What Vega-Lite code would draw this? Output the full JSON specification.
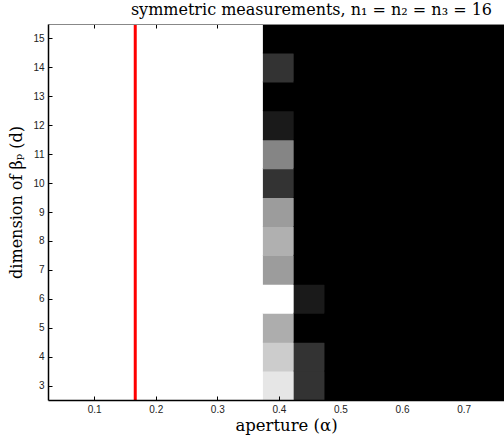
{
  "$schema": "https://vega.github.io/schema/vega-lite/v6.json",
  "width": 456,
  "height": 376,
  "autosize": "none",
  "padding": {"left": 48, "top": 24, "right": 0, "bottom": 39},
  "background": "white",
  "title": {
    "text": "symmetric measurements, n₁ = n₂ = n₃ = 16",
    "anchor": "end",
    "font": "DejaVu Serif",
    "fontSize": 16,
    "fontWeight": "normal",
    "color": "#000000",
    "offset": 5,
    "dx": -12
  },
  "config": {
    "view": {"stroke": null},
    "axis": {
      "labelFont": "Liberation Sans",
      "labelFontSize": 10,
      "labelColor": "#222222",
      "titleFont": "DejaVu Serif",
      "titleFontWeight": "normal",
      "titleColor": "#000000",
      "domainColor": "#000000",
      "domainWidth": 1.5,
      "tickColor": "#000000",
      "tickWidth": 1,
      "tickSize": -4,
      "grid": false,
      "zindex": 2
    }
  },
  "resolve": {"axis": {"x": "independent"}},
  "datasets": {
    "cells": [
      {"a":0.05,"d":3,"v":1},{"a":0.05,"d":4,"v":1},{"a":0.05,"d":5,"v":1},{"a":0.05,"d":6,"v":1},{"a":0.05,"d":7,"v":1},{"a":0.05,"d":8,"v":1},{"a":0.05,"d":9,"v":1},{"a":0.05,"d":10,"v":1},{"a":0.05,"d":11,"v":1},{"a":0.05,"d":12,"v":1},{"a":0.05,"d":13,"v":1},{"a":0.05,"d":14,"v":1},{"a":0.05,"d":15,"v":1},
      {"a":0.1,"d":3,"v":1},{"a":0.1,"d":4,"v":1},{"a":0.1,"d":5,"v":1},{"a":0.1,"d":6,"v":1},{"a":0.1,"d":7,"v":1},{"a":0.1,"d":8,"v":1},{"a":0.1,"d":9,"v":1},{"a":0.1,"d":10,"v":1},{"a":0.1,"d":11,"v":1},{"a":0.1,"d":12,"v":1},{"a":0.1,"d":13,"v":1},{"a":0.1,"d":14,"v":1},{"a":0.1,"d":15,"v":1},
      {"a":0.15,"d":3,"v":1},{"a":0.15,"d":4,"v":1},{"a":0.15,"d":5,"v":1},{"a":0.15,"d":6,"v":1},{"a":0.15,"d":7,"v":1},{"a":0.15,"d":8,"v":1},{"a":0.15,"d":9,"v":1},{"a":0.15,"d":10,"v":1},{"a":0.15,"d":11,"v":1},{"a":0.15,"d":12,"v":1},{"a":0.15,"d":13,"v":1},{"a":0.15,"d":14,"v":1},{"a":0.15,"d":15,"v":1},
      {"a":0.2,"d":3,"v":1},{"a":0.2,"d":4,"v":1},{"a":0.2,"d":5,"v":1},{"a":0.2,"d":6,"v":1},{"a":0.2,"d":7,"v":1},{"a":0.2,"d":8,"v":1},{"a":0.2,"d":9,"v":1},{"a":0.2,"d":10,"v":1},{"a":0.2,"d":11,"v":1},{"a":0.2,"d":12,"v":1},{"a":0.2,"d":13,"v":1},{"a":0.2,"d":14,"v":1},{"a":0.2,"d":15,"v":1},
      {"a":0.25,"d":3,"v":1},{"a":0.25,"d":4,"v":1},{"a":0.25,"d":5,"v":1},{"a":0.25,"d":6,"v":1},{"a":0.25,"d":7,"v":1},{"a":0.25,"d":8,"v":1},{"a":0.25,"d":9,"v":1},{"a":0.25,"d":10,"v":1},{"a":0.25,"d":11,"v":1},{"a":0.25,"d":12,"v":1},{"a":0.25,"d":13,"v":1},{"a":0.25,"d":14,"v":1},{"a":0.25,"d":15,"v":1},
      {"a":0.3,"d":3,"v":1},{"a":0.3,"d":4,"v":1},{"a":0.3,"d":5,"v":1},{"a":0.3,"d":6,"v":1},{"a":0.3,"d":7,"v":1},{"a":0.3,"d":8,"v":1},{"a":0.3,"d":9,"v":1},{"a":0.3,"d":10,"v":1},{"a":0.3,"d":11,"v":1},{"a":0.3,"d":12,"v":1},{"a":0.3,"d":13,"v":1},{"a":0.3,"d":14,"v":1},{"a":0.3,"d":15,"v":1},
      {"a":0.35,"d":3,"v":1},{"a":0.35,"d":4,"v":1},{"a":0.35,"d":5,"v":1},{"a":0.35,"d":6,"v":1},{"a":0.35,"d":7,"v":1},{"a":0.35,"d":8,"v":1},{"a":0.35,"d":9,"v":1},{"a":0.35,"d":10,"v":1},{"a":0.35,"d":11,"v":1},{"a":0.35,"d":12,"v":1},{"a":0.35,"d":13,"v":1},{"a":0.35,"d":14,"v":1},{"a":0.35,"d":15,"v":1},
      {"a":0.4,"d":3,"v":0.9},{"a":0.4,"d":4,"v":0.8},{"a":0.4,"d":5,"v":0.68},{"a":0.4,"d":6,"v":1},{"a":0.4,"d":7,"v":0.61},{"a":0.4,"d":8,"v":0.69},{"a":0.4,"d":9,"v":0.61},{"a":0.4,"d":10,"v":0.2},{"a":0.4,"d":11,"v":0.52},{"a":0.4,"d":12,"v":0.1},{"a":0.4,"d":13,"v":0},{"a":0.4,"d":14,"v":0.2},{"a":0.4,"d":15,"v":0},
      {"a":0.45,"d":3,"v":0.2},{"a":0.45,"d":4,"v":0.2},{"a":0.45,"d":5,"v":0},{"a":0.45,"d":6,"v":0.1},{"a":0.45,"d":7,"v":0},{"a":0.45,"d":8,"v":0},{"a":0.45,"d":9,"v":0},{"a":0.45,"d":10,"v":0},{"a":0.45,"d":11,"v":0},{"a":0.45,"d":12,"v":0},{"a":0.45,"d":13,"v":0},{"a":0.45,"d":14,"v":0},{"a":0.45,"d":15,"v":0},
      {"a":0.5,"d":3,"v":0},{"a":0.5,"d":4,"v":0},{"a":0.5,"d":5,"v":0},{"a":0.5,"d":6,"v":0},{"a":0.5,"d":7,"v":0},{"a":0.5,"d":8,"v":0},{"a":0.5,"d":9,"v":0},{"a":0.5,"d":10,"v":0},{"a":0.5,"d":11,"v":0},{"a":0.5,"d":12,"v":0},{"a":0.5,"d":13,"v":0},{"a":0.5,"d":14,"v":0},{"a":0.5,"d":15,"v":0},
      {"a":0.55,"d":3,"v":0},{"a":0.55,"d":4,"v":0},{"a":0.55,"d":5,"v":0},{"a":0.55,"d":6,"v":0},{"a":0.55,"d":7,"v":0},{"a":0.55,"d":8,"v":0},{"a":0.55,"d":9,"v":0},{"a":0.55,"d":10,"v":0},{"a":0.55,"d":11,"v":0},{"a":0.55,"d":12,"v":0},{"a":0.55,"d":13,"v":0},{"a":0.55,"d":14,"v":0},{"a":0.55,"d":15,"v":0},
      {"a":0.6,"d":3,"v":0},{"a":0.6,"d":4,"v":0},{"a":0.6,"d":5,"v":0},{"a":0.6,"d":6,"v":0},{"a":0.6,"d":7,"v":0},{"a":0.6,"d":8,"v":0},{"a":0.6,"d":9,"v":0},{"a":0.6,"d":10,"v":0},{"a":0.6,"d":11,"v":0},{"a":0.6,"d":12,"v":0},{"a":0.6,"d":13,"v":0},{"a":0.6,"d":14,"v":0},{"a":0.6,"d":15,"v":0},
      {"a":0.65,"d":3,"v":0},{"a":0.65,"d":4,"v":0},{"a":0.65,"d":5,"v":0},{"a":0.65,"d":6,"v":0},{"a":0.65,"d":7,"v":0},{"a":0.65,"d":8,"v":0},{"a":0.65,"d":9,"v":0},{"a":0.65,"d":10,"v":0},{"a":0.65,"d":11,"v":0},{"a":0.65,"d":12,"v":0},{"a":0.65,"d":13,"v":0},{"a":0.65,"d":14,"v":0},{"a":0.65,"d":15,"v":0},
      {"a":0.7,"d":3,"v":0},{"a":0.7,"d":4,"v":0},{"a":0.7,"d":5,"v":0},{"a":0.7,"d":6,"v":0},{"a":0.7,"d":7,"v":0},{"a":0.7,"d":8,"v":0},{"a":0.7,"d":9,"v":0},{"a":0.7,"d":10,"v":0},{"a":0.7,"d":11,"v":0},{"a":0.7,"d":12,"v":0},{"a":0.7,"d":13,"v":0},{"a":0.7,"d":14,"v":0},{"a":0.7,"d":15,"v":0},
      {"a":0.75,"d":3,"v":0},{"a":0.75,"d":4,"v":0},{"a":0.75,"d":5,"v":0},{"a":0.75,"d":6,"v":0},{"a":0.75,"d":7,"v":0},{"a":0.75,"d":8,"v":0},{"a":0.75,"d":9,"v":0},{"a":0.75,"d":10,"v":0},{"a":0.75,"d":11,"v":0},{"a":0.75,"d":12,"v":0},{"a":0.75,"d":13,"v":0},{"a":0.75,"d":14,"v":0},{"a":0.75,"d":15,"v":0}
    ],
    "threshold": [{"alpha": 0.1667}]
  },
  "layer": [
    {
      "data": {"name": "cells"},
      "mark": {"type": "rect", "width": 32, "height": 30, "clip": true, "strokeWidth": 0},
      "encoding": {
        "x": {
          "field": "a", "type": "quantitative",
          "scale": {"domain": [0.025, 0.7656], "nice": false, "zero": false},
          "axis": {
            "title": "aperture (α)",
            "titleFontSize": 16.5,
            "titlePadding": 3,
            "titleX": 238,
            "values": [0.1, 0.2, 0.3, 0.4, 0.5, 0.6, 0.7],
            "format": ".1f",
            "labelPadding": 8,
            "zindex": 2
          }
        },
        "y": {
          "field": "d", "type": "quantitative",
          "scale": {"domain": [2.5, 15.5], "nice": false, "zero": false},
          "axis": {
            "title": "dimension of βₚ (d)",
            "titleFontSize": 16,
            "titlePadding": 8,
            "titleY": 178,
            "titleAlign": "center",
            "values": [3,4,5,6,7,8,9,10,11,12,13,14,15],
            "format": "d",
            "labelPadding": 8,
            "zindex": 2
          }
        },
        "color": {
          "field": "v", "type": "quantitative",
          "scale": {"domain": [0, 1], "range": ["#000000", "#ffffff"], "interpolate": "rgb"},
          "legend": null
        }
      }
    },
    {
      "data": {"name": "threshold"},
      "mark": {"type": "rule", "color": "#ff0000", "strokeWidth": 3},
      "encoding": {
        "x": {
          "field": "alpha", "type": "quantitative",
          "axis": {
            "orient": "top",
            "title": null,
            "labels": false,
            "values": [0.1, 0.2, 0.3, 0.4, 0.5, 0.6, 0.7],
            "domainColor": "#888888",
            "domainWidth": 1,
            "zindex": 2
          }
        }
      }
    }
  ]
}
